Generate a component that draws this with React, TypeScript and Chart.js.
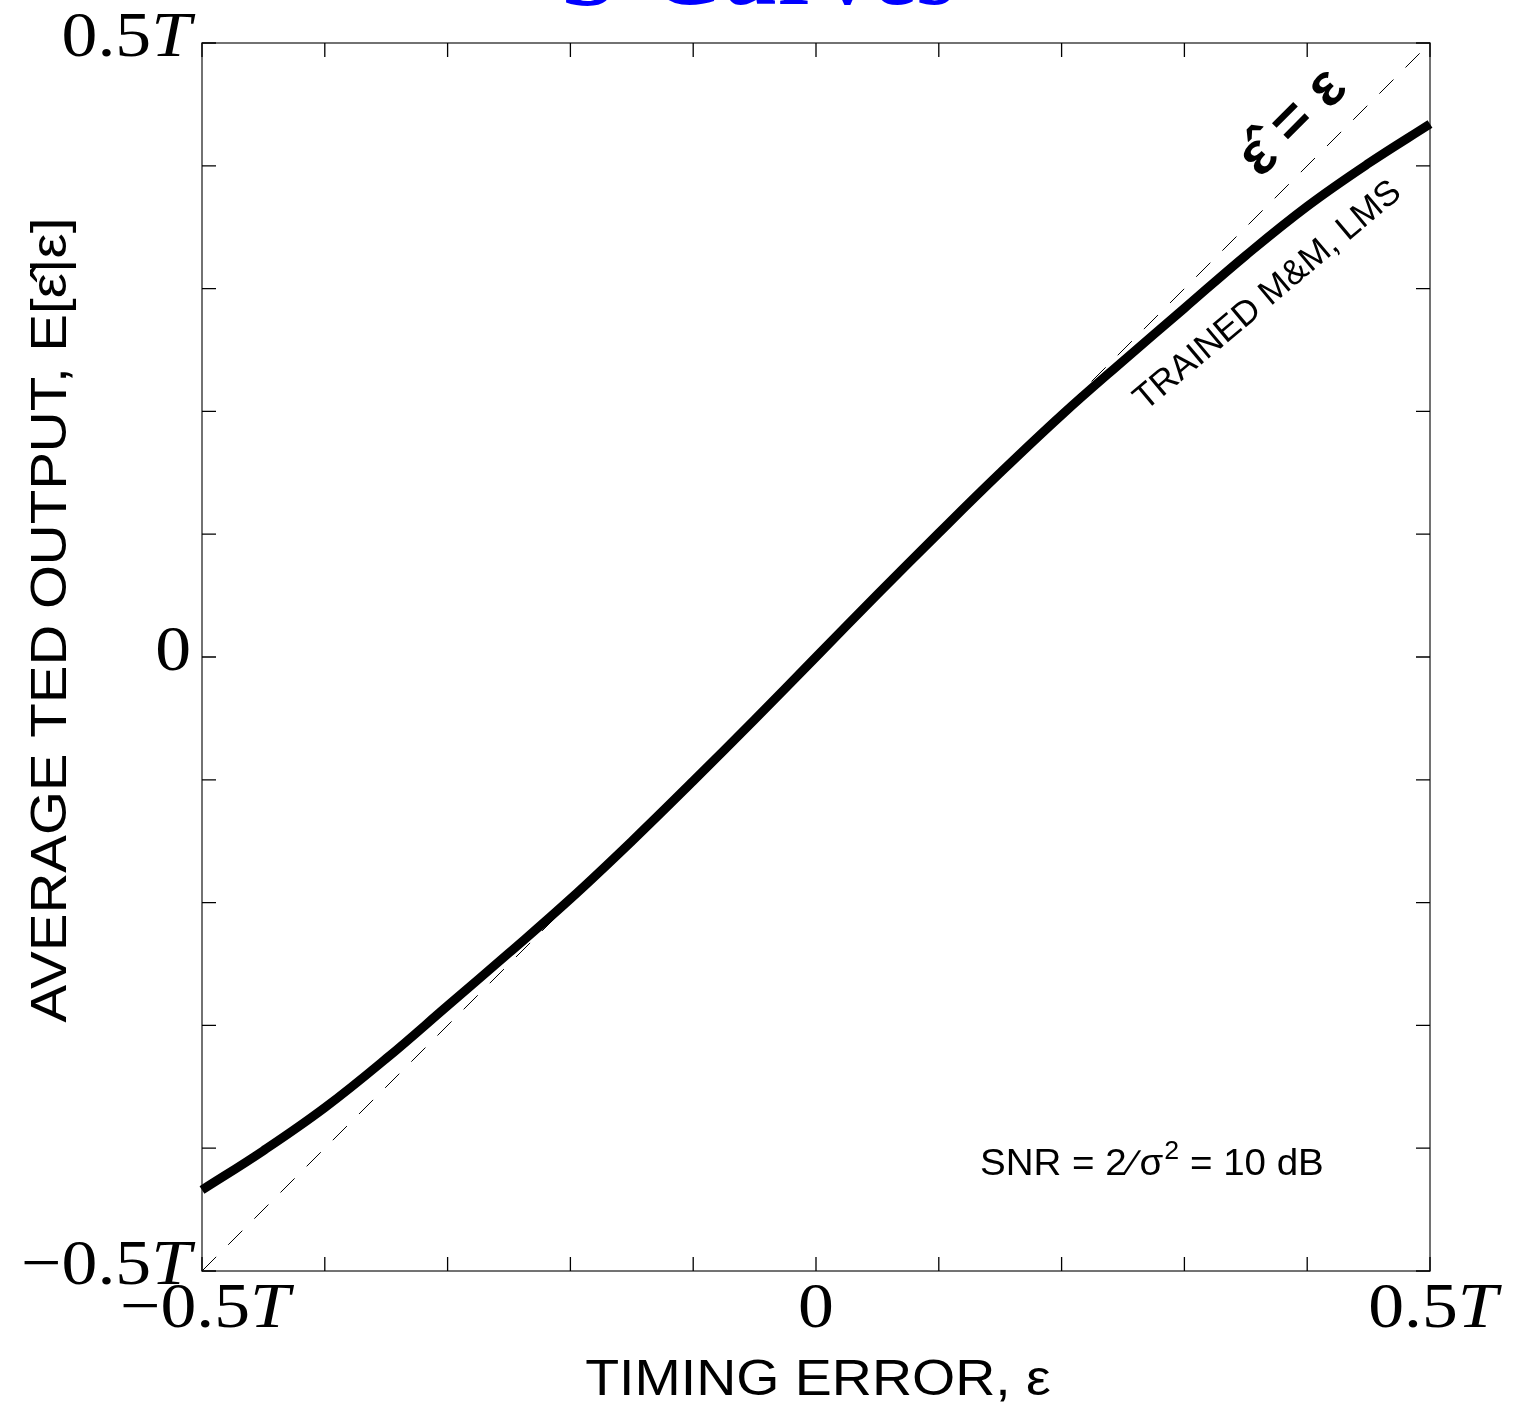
import React, { useEffect, useRef } from "react";
import { Chart, registerables } from "chart.js";

Chart.register(...registerables);

// ---- data ----
const timingError = [
  -0.5, -0.45, -0.4, -0.35, -0.3, -0.25, -0.2, -0.15, -0.1, -0.05, 0,
  0.05, 0.1, 0.15, 0.2, 0.25, 0.3, 0.35, 0.4, 0.45, 0.5,
];
const tedOutput = [
  -0.434, -0.402, -0.367, -0.327, -0.284, -0.241, -0.197, -0.15, -0.101, -0.051, 0,
  0.051, 0.101, 0.15, 0.197, 0.241, 0.284, 0.327, 0.367, 0.402, 0.434,
];
const referenceX = [-0.5, 0.5];
const referenceY = [-0.5, 0.5];
const tickValues = [-0.5, -0.4, -0.3, -0.2, -0.1, 0, 0.1, 0.2, 0.3, 0.4, 0.5];
const labeledTicks = [-0.5, 0, 0.5];
const tickNumbers = ["\u22120.5", "0", "0.5"];
const tickSuffix = ["T", "", "T"];

const titleText = "S-Curves";
const xTitle = "TIMING ERROR, \u03b5";
const yTitle = "AVERAGE TED OUTPUT, E[\u03b5\u0302|\u03b5]";
const curveLabel = "TRAINED M&M, LMS";
const diagLabel = "\u03b5\u0302 = \u03b5";

const SERIF = '"Liberation Serif", "DejaVu Serif", serif';
const SANS = '"Liberation Sans", Arial, sans-serif';

function drawTickLabel(ctx: CanvasRenderingContext2D, num: string, suf: string, x: number, y: number, align: "right" | "center") {
  const hs = 1.12;
  const numFont = `64px ${SERIF}`;
  const tFont = `italic 64px ${SERIF}`;
  ctx.font = tFont;
  const wT = suf ? ctx.measureText(suf).width : 0;
  ctx.font = numFont;
  const wN = ctx.measureText(num).width;
  const total = (wN + wT) * hs;
  const startX = align === "right" ? x - total : x - total / 2;
  ctx.save();
  ctx.translate(startX, y);
  ctx.scale(hs, 1);
  ctx.textAlign = "left";
  ctx.font = numFont;
  ctx.fillText(num, 0, 0);
  if (suf) {
    ctx.font = tFont;
    ctx.fillText(suf, wN, 0);
  }
  ctx.restore();
}

const decorPlugin = {
  id: "decor",
  beforeDatasetsDraw(chart: any) {
    const ctx = chart.ctx as CanvasRenderingContext2D;
    const xs = chart.scales.x;
    const ys = chart.scales.y;
    const { left, right, top, bottom } = chart.chartArea;
    ctx.save();
    ctx.strokeStyle = "#444";
    ctx.lineWidth = 1.5;
    ctx.strokeRect(left, top, right - left, bottom - top);
    ctx.strokeStyle = "#000";
    ctx.lineWidth = 1.3;
    const tl = 14;
    ctx.beginPath();
    for (const v of tickValues) {
      const px = xs.getPixelForValue(v);
      ctx.moveTo(px, bottom);
      ctx.lineTo(px, bottom - tl);
      ctx.moveTo(px, top);
      ctx.lineTo(px, top + tl);
      const py = ys.getPixelForValue(v);
      ctx.moveTo(left, py);
      ctx.lineTo(left + tl, py);
      ctx.moveTo(right, py);
      ctx.lineTo(right - tl, py);
    }
    ctx.stroke();
    ctx.restore();
  },
  afterDraw(chart: any) {
    const ctx = chart.ctx as CanvasRenderingContext2D;
    const xs = chart.scales.x;
    const ys = chart.scales.y;
    const W = chart.width;
    ctx.save();
    ctx.fillStyle = "#000";
    ctx.textBaseline = "alphabetic";

    // y tick labels
    labeledTicks.forEach((v, i) => {
      const py = ys.getPixelForValue(v);
      drawTickLabel(ctx, tickNumbers[i], tickSuffix[i], 191, py + 13, "right");
    });
    // x tick labels
    labeledTicks.forEach((v, i) => {
      const px = xs.getPixelForValue(v);
      drawTickLabel(ctx, tickNumbers[i], tickSuffix[i], px + (tickSuffix[i] ? 3 : 0), 1327, "center");
    });

    // axis titles
    ctx.font = `50px ${SANS}`;
    ctx.textAlign = "center";
    ctx.save();
    ctx.translate(818, 1395);
    ctx.scale(1.11, 1);
    ctx.fillText(xTitle, 0, 0);
    ctx.restore();
    ctx.save();
    ctx.translate(66, 620);
    ctx.rotate(-Math.PI / 2);
    ctx.scale(1.13, 1);
    ctx.fillText(yTitle, 0, 0);
    ctx.restore();

    // title (mostly above the page)
    ctx.fillStyle = "#0000ff";
    ctx.font = `bold 100px ${SERIF}`;
    ctx.textAlign = "center";
    ctx.fillText(titleText, W / 2, 4);

    // diagonal annotation
    ctx.fillStyle = "#000";
    ctx.save();
    ctx.translate(1293, 123);
    ctx.rotate(-Math.PI / 4);
    ctx.font = `bold 60px ${SANS}`;
    ctx.textBaseline = "middle";
    ctx.fillText(diagLabel, 0, 0);
    ctx.restore();

    // curve annotation
    ctx.save();
    ctx.translate(1268, 296);
    ctx.rotate(-40 * Math.PI / 180);
    ctx.font = `35px ${SANS}`;
    ctx.textBaseline = "middle";
    ctx.textAlign = "center";
    ctx.fillText(curveLabel, 0, 0);
    ctx.restore();

    // SNR annotation with superscript
    ctx.save();
    ctx.translate(980, 1175);
    ctx.scale(1.07, 1);
    ctx.textAlign = "left";
    ctx.textBaseline = "alphabetic";
    let x = 0;
    ctx.font = `36px ${SANS}`;
    const p1 = "SNR = 2\u200a\u2215\u200a\u03c3";
    ctx.fillText(p1, x, 0);
    x += ctx.measureText(p1).width;
    ctx.font = `25px ${SANS}`;
    ctx.fillText("2", x + 1, -16);
    x += ctx.measureText("2").width + 1;
    ctx.font = `36px ${SANS}`;
    ctx.fillText(" = 10 dB", x, 0);
    ctx.restore();

    ctx.restore();
  },
};

export default function App() {
  const ref = useRef<HTMLCanvasElement>(null);
  useEffect(() => {
    if (!ref.current) return;
    const chart = new Chart(ref.current, {
      type: "line",
      data: {
        datasets: [
          {
            label: curveLabel,
            data: timingError.map((x, i) => ({ x, y: tedOutput[i] })),
            borderColor: "#000",
            borderWidth: 9,
            pointRadius: 0,
            tension: 0.4,
            clip: false as any,
            order: 0,
          },
          {
            label: "reference",
            data: referenceX.map((x, i) => ({ x, y: referenceY[i] })),
            borderColor: "#000",
            borderWidth: 1,
            borderDash: [20, 17],
            pointRadius: 0,
            order: 1,
          },
        ],
      },
      options: {
        animation: false,
        responsive: false,
        devicePixelRatio: 1,
        layout: { padding: { left: 202, top: 43, right: 86, bottom: 133 } },
        plugins: { legend: { display: false }, tooltip: { enabled: false } },
        scales: {
          x: { type: "linear", min: -0.5, max: 0.5, display: false },
          y: { type: "linear", min: -0.5, max: 0.5, display: false },
        },
      },
      plugins: [decorPlugin],
    });
    return () => chart.destroy();
  }, []);
  return (
    <div style={{ position: "absolute", left: 0, top: 0, width: 1516, height: 1404, background: "#fff" }}>
      <canvas ref={ref} width={1516} height={1404} style={{ width: 1516, height: 1404, display: "block" }} />
    </div>
  );
}
